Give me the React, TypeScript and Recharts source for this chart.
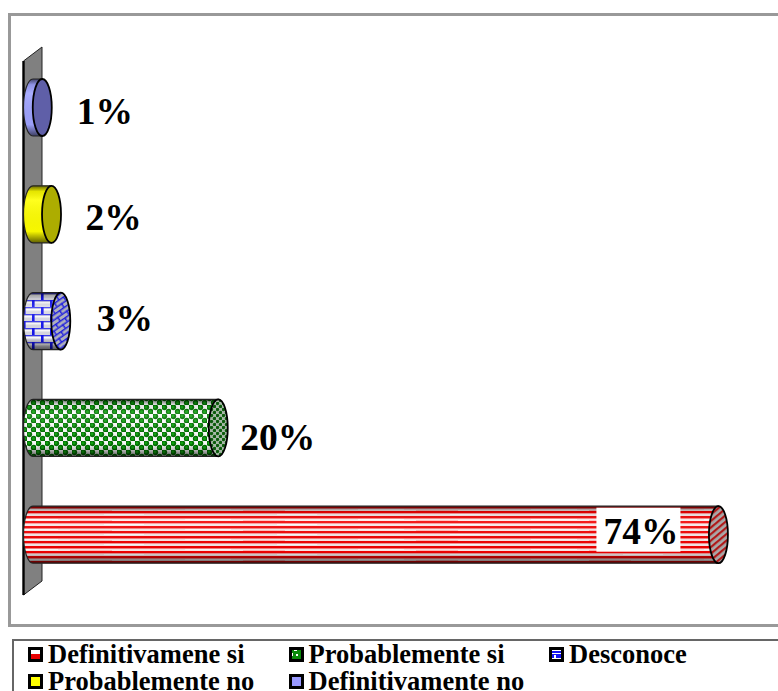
import { Bar, BarChart, LabelList, XAxis, YAxis, usePlotArea } from 'recharts'

const categories = ['Definitivamene si', 'Probablemente si', 'Desconoce', 'Probablemente no', 'Definitivamente no']
const percentages = [74, 20, 3, 2, 1]
const legendRows = [
  ['Definitivamene si', 'Probablemente si', 'Desconoce'],
  ['Probablemente no', 'Definitivamente no'],
]

const chartData = categories.map((name, i) => ({ name, value: percentages[i] }))

const SERIF = '"Liberation Serif", "Times New Roman", serif'

const looks: Record<string, { body: string; cap: string; swatch: string }> = {
  'Definitivamene si': { body: 'url(#redStripes)', cap: 'url(#redCap)', swatch: 'url(#redSwatch)' },
  'Probablemente si': { body: 'url(#greenDots)', cap: 'url(#greenCap)', swatch: 'url(#greenSwatch)' },
  Desconoce: { body: 'url(#blueBricks)', cap: 'url(#blueCap)', swatch: 'url(#blueSwatch)' },
  'Probablemente no': { body: '#ffff00', cap: '#adad00', swatch: '#ffff00' },
  'Definitivamente no': { body: '#9fa3ff', cap: '#5f5fa8', swatch: '#9999ff' },
}

// label offsets from the end of each bar, picked by eye
const labelNudge: Record<string, { dx: number; dy: number; box?: boolean }> = {
  'Definitivamene si': { dx: -115, dy: 9, box: true },
  'Probablemente si': { dx: 22, dy: 22 },
  Desconoce: { dx: 36, dy: 10 },
  'Probablemente no': { dx: 34, dy: 16 },
  'Definitivamente no': { dx: 34.5, dy: 16 },
}

const Patterns = () => (
  <defs>
    <pattern id="redStripes" width="173" height="10" patternUnits="userSpaceOnUse" y="506">
      <rect width="173" height="10" fill="#fbeaea" />
      <rect y="0" width="173" height="2" fill="#f20000" />
      <rect y="2" width="173" height="1" fill="#f98080" />
      <rect y="5" width="173" height="2" fill="#f40000" />
      <rect y="7" width="173" height="1" fill="#fa9a9a" />
      <rect x="12" y="3" width="46" height="1" fill="#ffffff" />
      <rect x="104" y="8" width="40" height="1" fill="#ffffff" />
      <rect x="70" y="4" width="42" height="1" fill="#fbb" />
    </pattern>
    <pattern id="redCap" width="5" height="5" patternUnits="userSpaceOnUse" patternTransform="rotate(-40)">
      <rect width="5" height="5" fill="#a9a9a9" />
      <rect width="5" height="2.2" fill="#b01818" />
    </pattern>
    <pattern id="redSwatch" width="12" height="12" patternUnits="userSpaceOnUse" y="647">
      <rect width="12" height="12" fill="#e80000" />
      <rect y="4" width="12" height="4" fill="#ffffff" />
    </pattern>
    <pattern id="greenDots" width="9" height="9" patternUnits="userSpaceOnUse">
      <rect width="9" height="9" fill="#ffffff" />
      <circle cx="2.25" cy="2.25" r="2.9" fill="#006f00" />
      <circle cx="6.75" cy="6.75" r="2.9" fill="#006f00" />
      <circle cx="2" cy="2" r="1.5" fill="#0fa60f" />
      <circle cx="6.5" cy="6.5" r="1.5" fill="#0fa60f" />
    </pattern>
    <pattern id="greenCap" width="6" height="6" patternUnits="userSpaceOnUse">
      <rect width="6" height="6" fill="#a8b8a8" />
      <circle cx="1.5" cy="1.5" r="1.7" fill="#0b5c0b" />
      <circle cx="4.5" cy="4.5" r="1.7" fill="#0b5c0b" />
    </pattern>
    <pattern id="greenSwatch" width="12" height="12" patternUnits="userSpaceOnUse">
      <rect width="12" height="12" fill="#0a8a0a" />
      <rect x="5" y="1" width="3" height="3" fill="#ffffff" />
      <rect x="1" y="6" width="3" height="3" fill="#ffffff" />
      <rect x="7" y="7" width="2" height="2" fill="#ffffff" />
    </pattern>
    <pattern id="blueBricks" width="18" height="14" patternUnits="userSpaceOnUse" y="293">
      <rect width="18" height="14" fill="#dcdce6" />
      <rect y="2" width="18" height="1.5" fill="#ffffff" />
      <rect y="9" width="18" height="1.5" fill="#ffffff" />
      <rect y="0" width="18" height="1.2" fill="#3a3af0" />
      <rect y="7" width="18" height="1.2" fill="#3a3af0" />
      <rect x="5" width="2.6" height="7" fill="#1414f0" />
      <rect x="14" y="7" width="2.6" height="7" fill="#1414f0" />
    </pattern>
    <pattern id="blueCap" width="11" height="9" patternUnits="userSpaceOnUse" patternTransform="rotate(-35)">
      <rect width="11" height="9" fill="#aeb0bc" />
      <rect width="11" height="1.4" fill="#1a1ae0" />
      <rect y="4.5" width="11" height="1.4" fill="#1a1ae0" />
      <rect x="2" width="1.4" height="4.5" fill="#1a1ae0" />
      <rect x="7.5" y="4.5" width="1.4" height="4.5" fill="#1a1ae0" />
    </pattern>
    <pattern id="blueSwatch" width="12" height="12" patternUnits="userSpaceOnUse" y="647">
      <rect width="12" height="12" fill="#ffffff" />
      <rect y="5" width="12" height="2" fill="#1414f0" />
      <rect y="8" width="12" height="4" fill="#1414f0" />
      <rect x="5" y="9" width="2" height="3" fill="#ffffff" />
    </pattern>
    <linearGradient id="tubeShade" x1="0" y1="0" x2="0" y2="1">
      <stop offset="0" stopColor="#000" stopOpacity="0.6" />
      <stop offset="0.1" stopColor="#000" stopOpacity="0.1" />
      <stop offset="0.25" stopColor="#fff" stopOpacity="0.12" />
      <stop offset="0.8" stopColor="#000" stopOpacity="0.03" />
      <stop offset="1" stopColor="#000" stopOpacity="0.62" />
    </linearGradient>
  </defs>
)

// grey wall behind the bars, skewed like the old 3D chart floor
const Wall = () => {
  const plot = usePlotArea()
  if (!plot) return null
  const left = plot.x - 9.5
  const right = plot.x + 9
  const top = plot.y
  const bottom = plot.y + plot.height
  return (
    <g>
      <path
        d={`M${left} ${top + 7} L${right} ${top - 7} L${right} ${bottom - 7} L${left} ${bottom + 7} Z`}
        fill="#808080"
        stroke="#222"
        strokeWidth={1}
      />
      <path d={`M${left} ${top + 7} L${left} ${bottom + 7}`} fill="none" stroke="#000" strokeWidth={2.4} />
    </g>
  )
}

const Cylinder = (props: any) => {
  const { x, y, width, height, payload } = props
  const look = looks[payload.name]
  const rx = 9.5
  const ry = height / 2
  const end = x + width
  const tube = `M${x} ${y} A${rx} ${ry} 0 0 0 ${x} ${y + height} L${end} ${y + height} L${end} ${y} Z`
  return (
    <g>
      <path d={tube} fill={look.body} />
      <path d={tube} fill="url(#tubeShade)" stroke="#222" strokeWidth={1.2} />
      <ellipse cx={end} cy={y + ry} rx={rx} ry={ry} fill={look.cap} stroke="#000" strokeWidth={1.8} />
    </g>
  )
}

const PercentLabel = (props: any) => {
  const { x, y, width, height, value, index } = props
  const nudge = labelNudge[categories[index]]
  const tx = x + width + nudge.dx
  const ty = y + height / 2 + nudge.dy
  return (
    <g>
      {nudge.box && <rect x={tx - 7} y={ty - 36} width={84} height={44} fill="#fff" />}
      <text x={tx} y={ty} fontFamily={SERIF} fontWeight="bold" fontSize={37.5} fill="#000">
        {value}%
      </text>
    </g>
  )
}

const Swatch = ({ name }: { name: string }) => (
  <svg width={15} height={15} style={{ display: 'block', flex: 'none', marginRight: 5 }}>
    <rect x={1.5} y={1.5} width={12} height={12} fill={looks[name].swatch} stroke="#000" strokeWidth={3} />
  </svg>
)

const App = () => (
  <div style={{ position: 'absolute', left: 0, top: 0, width: 778, height: 691, overflow: 'hidden', background: '#fff' }}>
    <div style={{ position: 'absolute', left: 8, top: 13, width: 800, height: 608, border: '3px solid #999' }} />
    <div style={{ position: 'absolute', left: 0, top: 0 }}>
      <BarChart
        width={778}
        height={691}
        data={chartData}
        layout="vertical"
        margin={{ top: 54, right: 4, bottom: 103, left: 33 }}
      >
        <Patterns />
        <Wall />
        <XAxis type="number" domain={[0, 80]} hide />
        <YAxis type="category" dataKey="name" reversed hide />
        <Bar dataKey="value" barSize={57} shape={Cylinder} isAnimationActive={false}>
          <LabelList dataKey="value" content={PercentLabel} />
        </Bar>
      </BarChart>
    </div>
    <div
      style={{
        position: 'absolute',
        left: 12,
        top: 639,
        width: 800,
        height: 60,
        borderTop: '2px solid #666',
        borderLeft: '2px solid #666',
        fontFamily: SERIF,
        fontWeight: 'bold',
        fontSize: 26.5,
        lineHeight: '27px',
      }}
    >
      {legendRows.map((row, r) => (
        <div key={r} style={{ display: 'flex', height: 27, paddingLeft: 14 }}>
          {row.map((name, c) => (
            <div key={name} style={{ display: 'flex', alignItems: 'center', width: c === 2 ? 200 : 260.5, whiteSpace: 'nowrap' }}>
              <Swatch name={name} />
              {name}
            </div>
          ))}
        </div>
      ))}
    </div>
  </div>
)

export default App
